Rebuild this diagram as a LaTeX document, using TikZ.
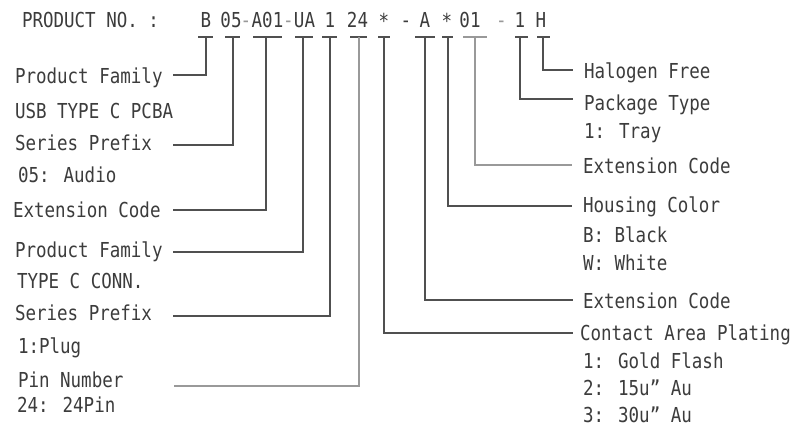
\documentclass[tikz,border=0pt]{standalone}
\usepackage{fontspec}
\newfontfamily\cadfont[FakeStretch=0.85]{DejaVu Sans Mono}
\definecolor{inkc}{HTML}{3C3C3C}
\definecolor{linec}{HTML}{505050}
\definecolor{lightc}{HTML}{999999}
\begin{document}
\begin{tikzpicture}[x=1pt,y=-1pt,
  txt/.style={inner sep=0pt,outer sep=0pt,anchor=base west,text=inkc,font=\cadfont\fontsize{20.6}{24}\selectfont},
  seg/.style={inner sep=0pt,outer sep=0pt,anchor=base,text=inkc,font=\cadfont\fontsize{20.6}{24}\selectfont},
  dashseg/.style={seg,text=lightc},
  lead/.style={draw=linec,line width=1.1pt},
  leadlight/.style={draw=lightc,line width=1.1pt}]
\useasboundingbox[fill=white] (0,0) rectangle (800,436);

% header
\node[txt] (hdr) at (22,28) {PRODUCT NO. :};
\node[seg] (cB)   at (206,28) {B};
\node[seg] (c05)  at (231,28) {05};
\node[dashseg] (d1) at (246,28) {-};
\node[seg] (cA01) at (267.5,28) {A01};
\node[dashseg] (d2) at (288.5,28) {-};
\node[seg] (cUA)  at (304.5,28) {UA};
\node[seg] (c1)   at (330,28) {1};
\node[seg] (c24)  at (357.5,28) {24};
\node[seg,anchor=center] (cS1) at (384,21) {*};
\node[seg] (d3)   at (406,28) {-};
\node[seg] (cA)   at (425,28) {A};
\node[seg,anchor=center] (cS2) at (447,21) {*};
\node[seg] (c01)  at (470,28) {01};
\node[dashseg] (d4) at (501.5,28) {-};
\node[seg] (c1b)  at (520,28) {1};
\node[seg] (cH)   at (541,28) {H};

% left labels
\node[txt] (lPF1) at (15,83)  {Product Family};
\node[txt] (lPF1b) at (15,118) {USB TYPE C PCBA};
\node[txt] (lSP1) at (15,150) {Series Prefix};
\node[txt] (lSP1b) at (18,182) {05: Audio};
\node[txt] (lEC1) at (13,217) {Extension Code};
\node[txt] (lPF2) at (15,257) {Product Family};
\node[txt] (lPF2b) at (17,288) {TYPE C CONN.};
\node[txt] (lSP2) at (15,320) {Series Prefix};
\node[txt] (lSP2b) at (18,353) {1:Plug};
\node[txt] (lPN) at (18,387) {Pin Number};
\node[txt] (lPNb) at (17,412) {24: 24Pin};

% right labels
\node[txt] (rHF) at (584,78) {Halogen Free};
\node[txt] (rPT) at (584,110) {Package Type};
\node[txt] (rPTb) at (584,138) {1: Tray};
\node[txt] (rEC1) at (583,173) {Extension Code};
\node[txt] (rHC) at (583,212) {Housing Color};
\node[txt] (rHCb) at (583,242) {B: Black};
\node[txt] (rHCc) at (583,270) {W: White};
\node[txt] (rEC2) at (583,308) {Extension Code};
\node[txt] (rCA) at (580,340) {Contact Area Plating};
\node[txt] (rCAb) at (583,368) {1: Gold Flash};
\node[txt] (rCAc) at (583,395) {2: 15u” Au};
\node[txt] (rCAd) at (583,422) {3: 30u” Au};

% tick bars
\draw[lead] (198,37) -- (213,37);
\draw[lead] (225,37) -- (240,37);
\draw[lead] (253,37) -- (282,37);
\draw[lead] (295,37) -- (313,37);
\draw[lead] (322,37) -- (337,37);
\draw[lead] (350,37) -- (367,37);
\draw[lead] (378,37) -- (390,37);
\draw[lead] (415,37) -- (435,37);
\draw[lead] (442,37) -- (453,37);
\draw[leadlight] (463,37) -- (487,37);
\draw[lead] (515,37) -- (528,37);
\draw[lead] (537,37) -- (550,37);

% leader end points
\coordinate (eB) at (173,75);
\coordinate (e05) at (173,145);
\coordinate (eA01) at (173,210);
\coordinate (eUA) at (173,252);
\coordinate (e1) at (173,316);
\coordinate (e24) at (174,386);
\coordinate (eS1) at (573,333);
\coordinate (eA) at (573,300);
\coordinate (eS2) at (572,206);
\coordinate (e01) at (572,165);
\coordinate (e1b) at (573,99);
\coordinate (eH) at (573,70);

% leaders
\draw[lead] (206,37) |- (eB);
\draw[lead] (233,37) |- (e05);
\draw[lead] (266,37) |- (eA01);
\draw[lead] (303,37) |- (eUA);
\draw[lead] (330,37) |- (e1);
\draw[leadlight] (359,37) |- (e24);
\draw[lead] (384,37) |- (eS1);
\draw[lead] (425,37) |- (eA);
\draw[lead] (448,37) |- (eS2);
\draw[leadlight] (475,37) |- (e01);
\draw[lead] (520,37) |- (e1b);
\draw[lead] (543,37) |- (eH);
\end{tikzpicture}
\end{document}
